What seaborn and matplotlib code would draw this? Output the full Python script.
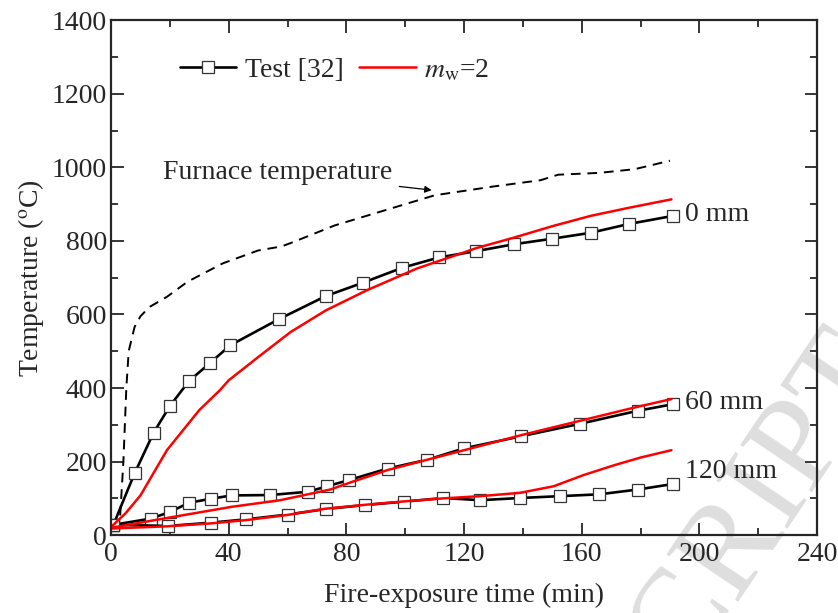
import matplotlib
matplotlib.use("Agg")
import matplotlib.pyplot as plt
import seaborn as sns
from matplotlib.ticker import MultipleLocator

# furnace temperature (dashed)
furnace_t = [0, 3, 4.2, 5.2, 6, 8, 10, 13, 19, 26, 38, 50, 58, 62, 76, 93, 110, 130, 146, 152, 166, 178, 190]
furnace_T = [20, 40, 200, 400, 500, 566, 595, 620, 648, 689, 739, 774, 785, 797, 842, 883, 924, 948, 965, 980, 985, 995, 1018]

# test [32], depth 0 mm
test0_t = [0.8, 8, 14.5, 20, 26.5, 33.5, 40.5, 57, 73, 85.5, 99, 111.5, 124, 137, 150, 163, 176, 191]
test0_T = [28, 168, 279, 351, 419, 467, 516, 587, 650, 686, 727, 755, 772, 791, 806, 822, 846, 868]
# test [32], depth 60 mm
test60_t = [0.8, 13.5, 20, 26.5, 34, 41, 54, 67, 73.5, 81, 94, 107.5, 120, 139.5, 159.5, 179, 191]
test60_T = [28, 45, 63, 88, 99, 108, 109, 118, 133, 150, 181, 205, 236, 269, 303, 338, 356]
# test [32], depth 120 mm
test120_t = [0.8, 19.5, 34, 46, 60, 73, 86.5, 99.5, 113, 125.5, 139, 152.5, 166, 179, 191]
test120_T = [28, 25, 34, 43, 56, 71, 82, 91, 101, 95, 101, 106, 111, 124, 139]

# model m_w = 2
mod0_t = [0, 5, 10, 19, 30, 37, 40, 50, 61, 73, 87, 104, 119, 124, 137, 150, 163, 176, 190.5]
mod0_T = [22, 60, 108, 231, 340, 394, 421, 484, 552, 611, 666, 725, 766, 780, 809, 840, 868, 890, 913]
mod60_t = [0, 20, 41, 57.5, 74.5, 82, 94, 106, 121, 139.5, 159.5, 179, 190.5]
mod60_T = [20, 48, 77, 95, 124, 145, 177, 202, 233, 272, 311, 349, 370]
mod120_t = [0, 19, 34, 46, 60, 73, 87, 100, 113, 125.5, 139, 150.5, 160.5, 171, 180, 190.5]
mod120_T = [18, 24, 32, 41, 55, 72, 83, 92, 100, 106, 115, 133, 163, 190, 211, 231]

depth_labels = ["0 mm", "60 mm", "120 mm"]
depth_label_y = [872, 361, 174]

sns.set_style("ticks")
plt.rcParams["font.family"] = ["Liberation Serif", "DejaVu Serif"]
plt.rcParams["mathtext.fontset"] = "stix"

fig = plt.figure(figsize=(8.38, 6.13), dpi=100)
ax = fig.add_axes([0.1325, 0.127, 0.8425, 0.840])
ax.patch.set_alpha(0)

# faint watermark behind the plot
fig.text(0.766, -0.194, "SCRIPT", fontsize=95, color="#dedede", rotation=56,
         rotation_mode="anchor", ha="left", va="baseline", zorder=-1)

sns.lineplot(x=furnace_t, y=furnace_T, ax=ax, color="black", linestyle=(0, (5, 3.5)),
             linewidth=1.4, sort=False)

test_style = dict(color="black", linewidth=1.9, marker="s", markersize=8.5,
                  markerfacecolor="white", markeredgecolor="#333333", markeredgewidth=0.9,
                  sort=False)
sns.lineplot(x=test0_t, y=test0_T, ax=ax, label="Test [32]", **test_style)
sns.lineplot(x=test60_t, y=test60_T, ax=ax, **test_style)
sns.lineplot(x=test120_t, y=test120_T, ax=ax, **test_style)

mod_style = dict(color="#ff0000", linewidth=1.8, sort=False)
sns.lineplot(x=mod0_t, y=mod0_T, ax=ax, label=r"$m_{\rm w}$=2", **mod_style)
sns.lineplot(x=mod60_t, y=mod60_T, ax=ax, **mod_style)
sns.lineplot(x=mod120_t, y=mod120_T, ax=ax, **mod_style)

ax.set_xlim(0, 240)
ax.set_ylim(0, 1400)
ax.xaxis.set_major_locator(MultipleLocator(40))
ax.xaxis.set_minor_locator(MultipleLocator(20))
ax.yaxis.set_major_locator(MultipleLocator(200))
ax.yaxis.set_minor_locator(MultipleLocator(100))
ax.tick_params(which="both", direction="in", top=True, right=True, labelsize=20, width=1.3)
ax.tick_params(which="major", length=9, pad=3)
ax.tick_params(axis="x", which="major", pad=5)
ax.tick_params(which="minor", length=5)
for s in ax.spines.values():
    s.set_linewidth(1.6)

ax.set_xlabel("Fire-exposure time (min)", fontsize=20, labelpad=11)
ax.set_ylabel(r"Temperature ($^{\rm o}$C)", fontsize=20, labelpad=4)

for lab, yv in zip(depth_labels, depth_label_y):
    ax.text(195, yv, lab, fontsize=20, va="center", ha="left")

ax.annotate("Furnace temperature", xy=(109, 938), xytext=(56.5, 986),
            fontsize=20, ha="center", va="center",
            arrowprops=dict(arrowstyle="-|>", color="black", lw=0.9,
                            shrinkA=3, shrinkB=0, mutation_scale=10),
            annotation_clip=False)

ax.legend(loc="center left", bbox_to_anchor=(0.097, 0.903), frameon=False, ncol=2,
          fontsize=20, handlelength=2.05, handletextpad=0.3, columnspacing=0.55,
          borderpad=0, borderaxespad=0)

fig.savefig("out.png", dpi=100)
